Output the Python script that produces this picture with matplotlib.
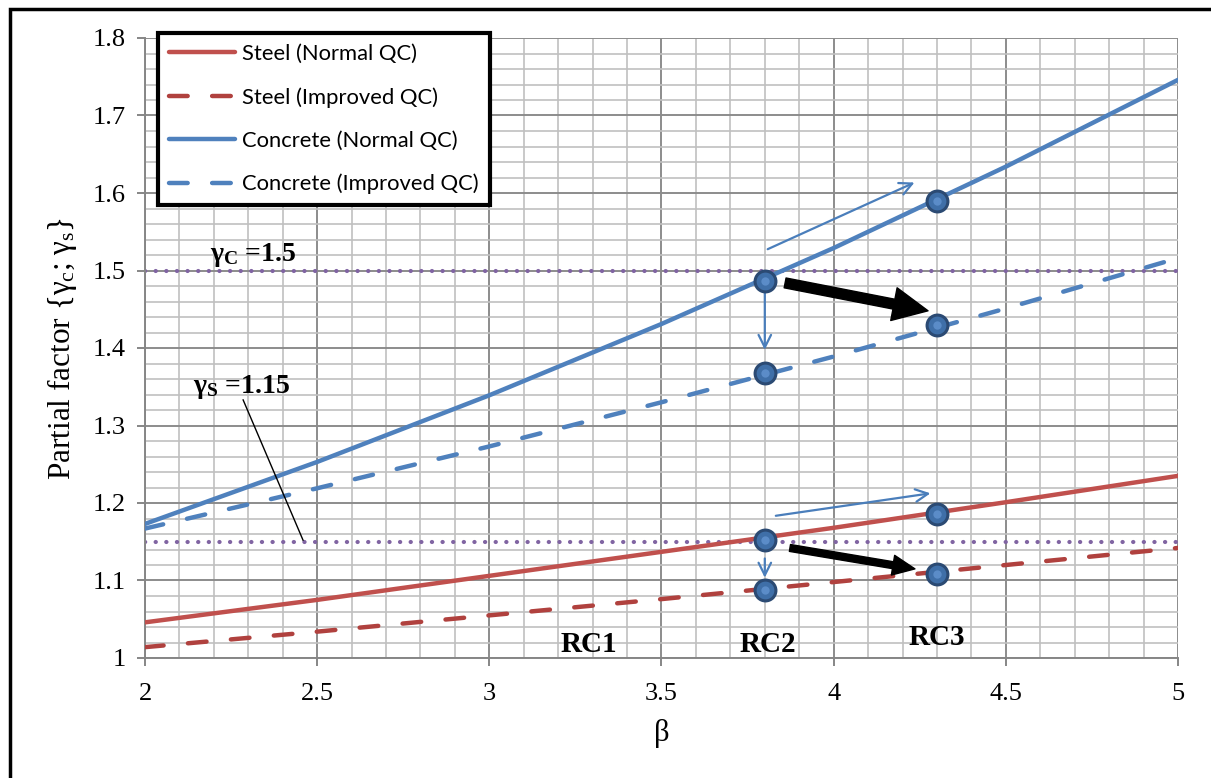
import numpy as np
import matplotlib
matplotlib.use("Agg")
import matplotlib.pyplot as plt
from matplotlib.patches import Rectangle
from matplotlib.ticker import MultipleLocator, FuncFormatter

plt.rcParams["font.family"] = ["Liberation Serif", "DejaVu Serif"]
plt.rcParams["mathtext.fontset"] = "custom"
plt.rcParams["mathtext.rm"] = "Liberation Serif"
plt.rcParams["mathtext.it"] = "Liberation Serif"
plt.rcParams["mathtext.bf"] = "Liberation Serif:bold"

# data
beta = [2.0, 2.5, 3.0, 3.5, 4.0, 4.5, 5.0]
steel_normal = [1.046, 1.075, 1.106, 1.137, 1.168, 1.201, 1.235]
steel_improved = [1.014, 1.034, 1.055, 1.076, 1.098, 1.120, 1.142]
concrete_normal = [1.173, 1.253, 1.339, 1.431, 1.529, 1.634, 1.746]
concrete_improved = [1.167, 1.219, 1.273, 1.330, 1.389, 1.451, 1.516]

# marked points at beta = 3.8 (RC2) and 4.3 (RC3)
beta_marks = [3.8, 4.3]
marks_cn = [1.487, 1.590]
marks_ci = [1.368, 1.430]
marks_sn = [1.152, 1.186]
marks_si = [1.088, 1.109]

gamma_c = 1.5
gamma_s = 1.15

rc_labels = ["RC1", "RC2", "RC3"]
rc_beta = [3.29, 3.81, 4.30]
rc_y = [1.017, 1.017, 1.027]

red = "#C0504D"
red_dark = "#B0413E"
blue = "#4F81BD"
purple = "#8064A2"

fig = plt.figure(figsize=(12.11, 7.78), dpi=100)
ax = fig.add_axes([145 / 1211, 1 - 658 / 778, (1178 - 145) / 1211, (658 - 38) / 778])

lw = 3.2
ax.plot(beta, steel_normal, color=red, lw=lw, solid_capstyle="round", label="Steel (Normal QC)", zorder=3)
ax.plot(beta, steel_improved, color=red_dark, lw=lw, dashes=(4.2, 5.5), dash_capstyle="round",
        label="Steel (Improved QC)", zorder=3)
ax.plot(beta, concrete_normal, color=blue, lw=lw, solid_capstyle="round", label="Concrete (Normal QC)", zorder=3)
ax.plot(beta, concrete_improved, color=blue, lw=lw, dashes=(4.2, 5.5), dash_capstyle="round",
        label="Concrete (Improved QC)", zorder=3)

# reference partial factors (dotted)
for g in (gamma_c, gamma_s):
    ax.plot([2, 5], [g, g], color=purple, lw=3.0, dashes=(0.05, 2.5), dash_capstyle="round", zorder=2)

# markers
for ys in (marks_cn, marks_ci, marks_sn, marks_si):
    ax.plot(beta_marks, ys, ls="none", marker="o", ms=15, mfc="#3F6FA8", mec="#2B4A73", mew=2.2, zorder=5)
    ax.plot(beta_marks, ys, ls="none", marker="o", ms=6, mfc="#5B8CC8", mec="none", zorder=6)

# thin blue arrows
thin = dict(arrowstyle="->,head_length=0.9,head_width=0.45", color="#4A7EBB", lw=1.6)
ax.annotate("", xy=(4.242, 1.615), xytext=(3.801, 1.526), arrowprops=thin, zorder=4)
ax.annotate("", xy=(3.80, 1.394), xytext=(3.80, 1.475), arrowprops=thin, zorder=4)
ax.annotate("", xy=(4.289, 1.213), xytext=(3.824, 1.183), arrowprops=thin, zorder=4)
ax.annotate("", xy=(3.80, 1.100), xytext=(3.80, 1.132), arrowprops=thin, zorder=4)

# thick black arrows
ax.annotate("", xy=(4.274, 1.448), xytext=(3.859, 1.484),
            arrowprops=dict(arrowstyle="simple,head_length=1.25,head_width=1.2,tail_width=0.36",
                            color="black", mutation_scale=20, shrinkA=0, shrinkB=0), zorder=4)
ax.annotate("", xy=(4.236, 1.115), xytext=(3.873, 1.142),
            arrowprops=dict(arrowstyle="simple,head_length=0.8,head_width=0.72,tail_width=0.25",
                            color="black", mutation_scale=20, shrinkA=0, shrinkB=0), zorder=4)

# labels on the chart
ax.text(2.19, 1.52, r"$\mathbf{\gamma_C}$ =1.5", fontsize=20, fontweight="bold", ha="left", va="center")
ax.text(2.14, 1.35, r"$\mathbf{\gamma_S}$ =1.15", fontsize=20, fontweight="bold", ha="left", va="center")
ax.plot([2.285, 2.459], [1.333, 1.152], color="black", lw=1.0, zorder=4)
for lab, bx, by in zip(rc_labels, rc_beta, rc_y):
    ax.text(bx, by, lab, fontsize=21, fontweight="bold", ha="center", va="center")

# axes
ax.set_xlim(2, 5)
ax.set_ylim(1, 1.8)
ax.xaxis.set_major_locator(MultipleLocator(0.5))
ax.xaxis.set_minor_locator(MultipleLocator(0.1))
ax.yaxis.set_major_locator(MultipleLocator(0.1))
ax.yaxis.set_minor_locator(MultipleLocator(0.02))
fmt = FuncFormatter(lambda v, p: "%g" % round(v, 2))
ax.xaxis.set_major_formatter(fmt)
ax.yaxis.set_major_formatter(fmt)
ax.grid(which="major", color="#8C8C8C", lw=1.4)
ax.grid(which="minor", color="#C0C0C0", lw=1.2)
ax.set_axisbelow(True)
for s in ("top", "right"):
    ax.spines[s].set_visible(False)
for s in ("left", "bottom"):
    ax.spines[s].set_color("#868686")
    ax.spines[s].set_linewidth(1.4)
ax.tick_params(which="major", direction="out", length=6, width=1.4, color="#868686",
               labelsize=19, pad=8)
ax.tick_params(axis="x", which="major", pad=12)
ax.tick_params(which="minor", length=0)

ax.set_xlabel(r"β", fontsize=22, labelpad=10)
ax.set_ylabel(r"Partial factor {$\gamma_c$; $\gamma_s$}", fontsize=22.5, labelpad=10)

leg = ax.legend(loc="upper left", bbox_to_anchor=(158 / 1211, 1 - 33 / 778),
                bbox_transform=fig.transFigure, borderaxespad=0, fancybox=False,
                framealpha=1, edgecolor="black", handlelength=3.0, labelspacing=1.05,
                prop={"family": "Lato", "size": 15.8}, borderpad=0.5, handletextpad=0.35)
leg.get_frame().set_linewidth(3)
leg.set_zorder(10)

# outer frame of the picture
fig.patches.append(Rectangle((10 / 1211, -0.05), 1.1, 1 - 9 / 778 + 0.05, transform=fig.transFigure,
                             fill=False, ec="black", lw=2.5, clip_on=False))

fig.savefig("out.png", dpi=100)
